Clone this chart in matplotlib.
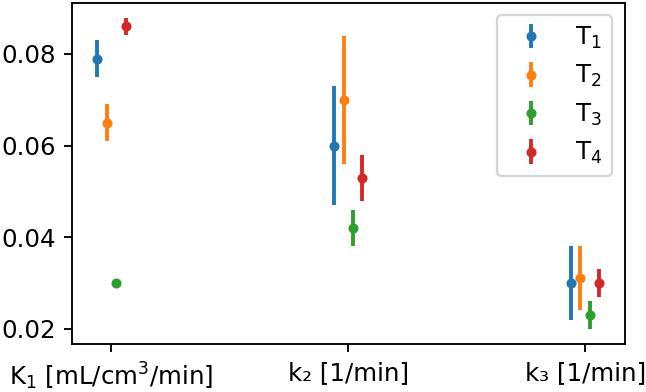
import matplotlib
matplotlib.use("Agg")
import matplotlib.pyplot as plt
import numpy as np

# kinetic parameters for each of the four T groups
params = [r'K$_1$ [mL/cm$^3$/min]', 'k₂ [1/min]', 'k₃ [1/min]']
labels = ['T$_1$', 'T$_2$', 'T$_3$', 'T$_4$']

t1_vals = [0.079, 0.060, 0.030]
t1_errs = [0.004, 0.013, 0.008]
t2_vals = [0.065, 0.070, 0.031]
t2_errs = [0.004, 0.014, 0.007]
t3_vals = [0.030, 0.042, 0.023]
t3_errs = [0.0, 0.004, 0.003]
t4_vals = [0.086, 0.053, 0.030]
t4_errs = [0.0018, 0.005, 0.003]

vals = [t1_vals, t2_vals, t3_vals, t4_vals]
errs = [t1_errs, t2_errs, t3_errs, t4_errs]
offsets = [-0.06, -0.02, 0.02, 0.06]

plt.rcParams['font.size'] = 10.5
plt.rcParams['lines.linewidth'] = 1.65
plt.rcParams['lines.markersize'] = 6.6

fig = plt.figure(figsize=(646 / 168, 392 / 168), dpi=168)
ax = fig.add_subplot(111)
fig.subplots_adjust(left=72 / 646, right=624.5 / 646, top=1 - 2.7 / 392, bottom=1 - 344.3 / 392)

x = np.arange(len(params))
for v, e, off, lab in zip(vals, errs, offsets, labels):
    ax.errorbar(x + off, v, yerr=e, fmt='.', label=lab)

ax.set_xticks(x)
ax.set_xticklabels(params)
ax.set_yticks([0.02, 0.04, 0.06, 0.08])
ax.legend(loc='upper right')

plt.savefig('out.png', dpi=168)
